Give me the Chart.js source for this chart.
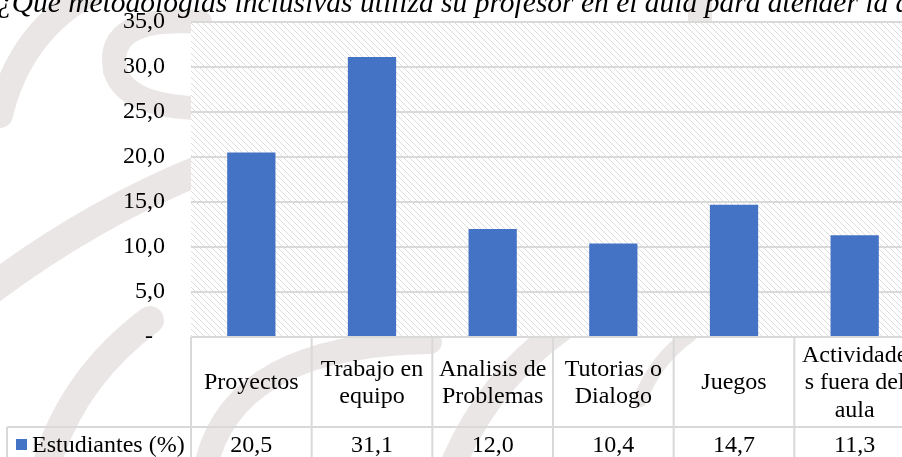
<!DOCTYPE html>
<html>
<head>
<meta charset="utf-8">
<script src="https://cdn.jsdelivr.net/npm/chart.js@4"></script>
<style>
  html, body { margin: 0; padding: 0; background: #fff; overflow: hidden; }
  #wrap { width: 920px; height: 457px; }
</style>
</head>
<body>
<div id="wrap"><canvas id="chart" width="920" height="457"></canvas></div>
<script>
const title = "¿Qué metodologías inclusivas utiliza su profesor en el aula para atender la diversidad?";
const seriesName = "Estudiantes (%)";
// category labels, wrapped the way the table cells show them
const categories = [
  ["Proyectos"],
  ["Trabajo en", "equipo"],
  ["Analisis de", "Problemas"],
  ["Tutorias o", "Dialogo"],
  ["Juegos"],
  ["Actividade", "s fuera del", "aula"]
];
const values = [20.5, 31.1, 12.0, 10.4, 14.7, 11.3];
const yTicks = [0, 5, 10, 15, 20, 25, 30, 35];

const FONT = "'Liberation Serif', 'Times New Roman', serif";
const BAR = "#4472C4";
const LINE = "#d9d9d9";

const fmt = v => v.toFixed(1).replace(".", ",");

// diagonal hatch for the plot area, crisp one-pixel steps
const tile = document.createElement("canvas");
tile.width = 6; tile.height = 6;
const tctx = tile.getContext("2d");
tctx.fillStyle = "#dcdcdc";
for (let i = 0; i < 6; i++) tctx.fillRect(i, i, 1, 1);

// faint gray swashes behind the chart (page watermark)
function drawWatermark(ctx) {
  ctx.save();
  ctx.strokeStyle = "#ebe6e6";
  ctx.lineCap = "round";
  const swash = (w, pts) => {
    ctx.lineWidth = w;
    ctx.beginPath();
    ctx.moveTo(pts[0], pts[1]);
    ctx.quadraticCurveTo(pts[2], pts[3], pts[4], pts[5]);
    ctx.stroke();
  };
  swash(26, [95, -10, 20, 30, 0, 115]);
  swash(24, [200, 22, 105, 15, 115, 70]);
  swash(24, [115, 70, 125, 105, 195, 108]);
  swash(30, [-10, 290, 90, 215, 200, 170]);
  swash(28, [45, 470, 70, 380, 150, 320]);
  swash(24, [205, 470, 230, 345, 430, 342]);
  swash(26, [455, 460, 490, 380, 560, 330]);
  swash(14, [640, 400, 655, 360, 690, 335]);
  swash(24, [700, -10, 700, 10, 700, 24]);
  ctx.restore();
}

const backdrop = {
  id: "backdrop",
  beforeDraw(chart) {
    const { ctx, chartArea: a } = chart;
    ctx.save();
    ctx.fillStyle = "#fff";
    ctx.fillRect(0, 0, chart.width, chart.height);
    drawWatermark(ctx);
    ctx.fillStyle = "#fff";
    ctx.fillRect(a.left, a.top, a.right - a.left, a.bottom - a.top);
    ctx.fillStyle = ctx.createPattern(tile, "repeat");
    ctx.fillRect(a.left, a.top, a.right - a.left, a.bottom - a.top);
    ctx.restore();
  }
};

// title on top and the data table under the plot
const tableAndTitle = {
  id: "tableAndTitle",
  afterDraw(chart) {
    const { ctx, chartArea: a } = chart;
    const x = chart.scales.x;
    const n = categories.length;
    const colW = (a.right - a.left) / n;
    const headTop = a.bottom;
    const rowTop = headTop + 90;
    const bottom = chart.height + 10;

    ctx.save();
    ctx.strokeStyle = LINE;
    ctx.lineWidth = 2;
    ctx.beginPath();
    ctx.moveTo(a.left, headTop); ctx.lineTo(a.right, headTop);
    ctx.moveTo(7, rowTop); ctx.lineTo(a.right, rowTop);
    ctx.moveTo(7, rowTop); ctx.lineTo(7, bottom);
    for (let i = 0; i <= n; i++) {
      const xx = a.left + i * colW;
      ctx.moveTo(xx, headTop); ctx.lineTo(xx, bottom);
    }
    ctx.stroke();

    ctx.fillStyle = "#000";
    ctx.font = "24px " + FONT;
    ctx.textAlign = "center";
    ctx.textBaseline = "middle";
    const lh = 27.5;
    categories.forEach((lines, i) => {
      const cx = x.getPixelForValue(i);
      const cy = (headTop + rowTop) / 2 - (lines.length - 1) * lh / 2;
      lines.forEach((t, j) => ctx.fillText(t, cx, cy + j * lh + 1));
      ctx.fillText(fmt(values[i]), cx, rowTop + 19);
    });

    ctx.fillStyle = BAR;
    ctx.fillRect(16, rowTop + 12, 11, 11);
    ctx.fillStyle = "#000";
    ctx.textAlign = "left";
    ctx.fillText(seriesName, 32, rowTop + 19);

    ctx.font = "italic 29.5px " + FONT;
    ctx.textBaseline = "alphabetic";
    ctx.fillText(title, -3, 12);
    ctx.restore();
  }
};

new Chart(document.getElementById("chart"), {
  type: "bar",
  data: {
    labels: categories,
    datasets: [{
      label: seriesName,
      data: values,
      backgroundColor: BAR,
      barPercentage: 0.8,
      categoryPercentage: 0.5
    }]
  },
  options: {
    responsive: false,
    animation: false,
    layout: { padding: { top: 22, right: 5, bottom: 120, left: 0 } },
    plugins: {
      legend: { display: false },
      tooltip: { enabled: false }
    },
    scales: {
      x: { display: false },
      y: {
        min: 0,
        max: 35,
        afterFit(scale) {
          scale.width = 191;
          scale.paddingTop = 0;
          scale.paddingBottom = 0;
        },
        afterBuildTicks(scale) { scale.ticks = yTicks.map(v => ({ value: v })); },
        border: { display: false },
        grid: { color: LINE, lineWidth: 2, drawTicks: false },
        ticks: {
          padding: 26,
          color: "#000",
          font: { family: FONT, size: 24 },
          callback: v => v === 0 ? "-  " : fmt(v)
        }
      }
    }
  },
  plugins: [backdrop, tableAndTitle]
});
</script>
</body>
</html>
